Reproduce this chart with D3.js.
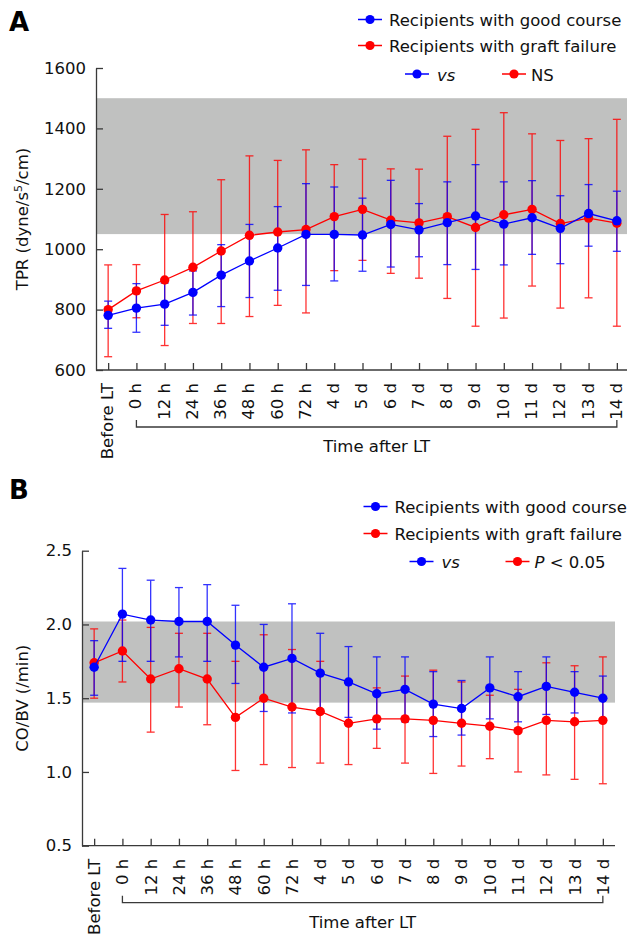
<!DOCTYPE html>
<html><head><meta charset="utf-8">
<script src="https://cdn.jsdelivr.net/npm/d3@7"></script>
<style>body{margin:0;background:#fff}svg{display:block}text{font-family:"DejaVu Sans",sans-serif}</style>
</head><body><svg id="c" width="627" height="936"></svg>
<script>
const categories = ["Before LT","0 h","12 h","24 h","36 h","48 h","60 h","72 h","4 d","5 d","6 d","7 d","8 d","9 d","10 d","11 d","12 d","13 d","14 d"];

// Panel A: TPR
const tprGoodMean = [781, 805, 818, 857, 914, 961, 1004, 1049, 1049, 1047, 1082, 1064, 1088, 1110, 1083, 1104, 1069, 1118, 1094];
const tprGoodLow  = [738, 725, 748, 782, 810, 840, 864, 880, 895, 927, 941, 975, 949, 933, 948, 983, 952, 1010, 993];
const tprGoodHigh = [828, 886, 888, 928, 1015, 1082, 1141, 1217, 1206, 1169, 1228, 1151, 1223, 1280, 1223, 1227, 1177, 1214, 1192];
const tprFailMean = [800, 862, 898, 940, 994, 1046, 1057, 1065, 1108, 1132, 1096, 1087, 1108, 1072, 1114, 1132, 1085, 1103, 1086];
const tprFailLow  = [644, 773, 681, 754, 754, 777, 814, 789, 929, 963, 920, 904, 837, 745, 772, 878, 805, 839, 745];
const tprFailHigh = [948, 949, 1115, 1124, 1230, 1309, 1294, 1329, 1280, 1298, 1266, 1265, 1374, 1397, 1452, 1382, 1360, 1366, 1430];
const tprTicks = [600, 800, 1000, 1200, 1400, 1600];
const tprNormal = [1050, 1500];

// Panel B: CO/BV
const coGoodMean = [1.71, 2.07, 2.03, 2.02, 2.02, 1.86, 1.71, 1.77, 1.67, 1.61, 1.53, 1.56, 1.46, 1.43, 1.57, 1.51, 1.58, 1.54, 1.50];
const coGoodLow  = [1.52, 1.75, 1.75, 1.78, 1.75, 1.60, 1.41, 1.40, 1.40, 1.37, 1.29, 1.34, 1.24, 1.25, 1.36, 1.34, 1.39, 1.40, 1.35];
const coGoodHigh = [1.89, 2.38, 2.30, 2.25, 2.27, 2.13, 2.00, 2.14, 1.94, 1.85, 1.78, 1.78, 1.68, 1.62, 1.78, 1.68, 1.78, 1.68, 1.65];
const coFailMean = [1.74, 1.82, 1.63, 1.70, 1.63, 1.37, 1.50, 1.44, 1.41, 1.33, 1.36, 1.36, 1.35, 1.33, 1.31, 1.28, 1.35, 1.34, 1.35];
const coFailLow  = [1.50, 1.61, 1.27, 1.44, 1.32, 1.01, 1.05, 1.03, 1.06, 1.05, 1.16, 1.06, 0.99, 1.04, 1.09, 1.00, 0.98, 0.95, 0.92];
const coFailHigh = [1.97, 2.03, 1.98, 1.94, 1.94, 1.75, 1.93, 1.83, 1.75, 1.62, 1.57, 1.65, 1.69, 1.61, 1.52, 1.56, 1.74, 1.72, 1.78];
const coTicks = [0.5, 1.0, 1.5, 2.0, 2.5];
const coNormal = [1.47, 2.02];

const seriesNames = ["Recipients with good course", "Recipients with graft failure"];

const BLUE = "#0000ff", RED = "#ff0000", GRAY = "#c0c1c0", AXIS = "#3a3a3a", TXT = "#111";
const FS = 16.5;
const svg = d3.select("#c");

function legendItem(g, x, y, color) {
  g.append("line").attr("x1", x - 12).attr("x2", x + 12).attr("y1", y).attr("y2", y)
    .attr("stroke", color).attr("stroke-width", 1.5);
  g.append("circle").attr("cx", x).attr("cy", y).attr("r", 4.6).attr("fill", color);
}

function panel(cfg) {
  const g = svg.append("g");
  const x = d3.scalePoint().domain(categories).range([cfg.left, cfg.right]).padding(0.43);
  const y = d3.scaleLinear().domain(cfg.domain).range([cfg.bottom, cfg.top]);

  // normal range band
  g.append("rect").attr("x", cfg.left + 1).attr("width", cfg.bandRight - cfg.left - 1)
    .attr("y", y(cfg.band[1])).attr("height", y(cfg.band[0]) - y(cfg.band[1]))
    .attr("fill", GRAY);

  // axes
  const yg = g.append("g").attr("transform", `translate(${cfg.left},0)`)
    .call(d3.axisLeft(y).tickValues(cfg.ticks).tickFormat(cfg.fmt).tickSizeInner(-7).tickSizeOuter(0).tickPadding(10));
  const xg = g.append("g").attr("transform", `translate(0,${cfg.bottom})`)
    .call(d3.axisBottom(x).tickSizeInner(-7).tickSizeOuter(0).tickFormat(""));
  xg.select(".domain").attr("d", `M${cfg.left},0H${cfg.bandRight}`);
  [yg, xg].forEach(a => {
    a.selectAll("path,line").attr("stroke", AXIS).attr("stroke-width", 1.3);
    a.selectAll("text").attr("font-family", "DejaVu Sans").attr("font-size", FS).attr("fill", TXT);
  });

  // rotated category labels
  g.selectAll("text.cat").data(categories).join("text").attr("class", "cat")
    .attr("transform", d => `translate(${x(d) + cfg.labOff},${cfg.bottom + 13}) rotate(-90)`)
    .attr("text-anchor", "end").attr("dy", "0.36em")
    .attr("font-size", FS).attr("fill", TXT).text(d => d);

  // bracket "Time after LT"
  const bx0 = x(categories[1]), bx1 = x(categories[categories.length - 1]), by = cfg.bottom + 57;
  g.append("path").attr("d", `M${bx0},${by - 7}V${by}H${bx1}V${by - 7}`)
    .attr("fill", "none").attr("stroke", AXIS).attr("stroke-width", 1.3);
  g.append("text").attr("x", (bx0 + bx1) / 2).attr("y", by + 25).attr("text-anchor", "middle")
    .attr("font-size", FS).attr("fill", TXT).text("Time after LT");

  // y title
  const yt = g.append("text")
    .attr("transform", `translate(28,${(cfg.top + cfg.bottom) / 2}) rotate(-90)`)
    .attr("text-anchor", "middle").attr("font-size", FS).attr("fill", TXT);
  cfg.yTitle(yt);

  // panel letter
  g.append("text").attr("x", 9).attr("y", cfg.letterY).attr("font-family", "Liberation Sans")
    .attr("font-weight", "bold").attr("font-size", 26).attr("fill", "#000").text(cfg.letter);

  // data
  const series = [
    {mean: cfg.fail[0], low: cfg.fail[1], high: cfg.fail[2], color: RED},
    {mean: cfg.good[0], low: cfg.good[1], high: cfg.good[2], color: BLUE}
  ];
  series.forEach(s => {
    const eg = g.append("g").attr("stroke", s.color).attr("stroke-width", 1.3).attr("opacity", 0.8);
    categories.forEach((c, i) => {
      const cx = x(c);
      eg.append("line").attr("x1", cx).attr("x2", cx).attr("y1", y(s.low[i])).attr("y2", y(s.high[i]));
      eg.append("line").attr("x1", cx - 4).attr("x2", cx + 4).attr("y1", y(s.low[i])).attr("y2", y(s.low[i]));
      eg.append("line").attr("x1", cx - 4).attr("x2", cx + 4).attr("y1", y(s.high[i])).attr("y2", y(s.high[i]));
    });
  });
  const line = d3.line().x((d, i) => x(categories[i])).y(d => y(d));
  series.forEach(s => {
    g.append("path").datum(s.mean).attr("d", line).attr("fill", "none")
      .attr("stroke", s.color).attr("stroke-width", 1.3);
    g.selectAll(null).data(s.mean).join("circle")
      .attr("cx", (d, i) => x(categories[i])).attr("cy", d => y(d)).attr("r", 4.7).attr("fill", s.color);
  });

  // legend
  const lg = g.append("g").attr("font-size", FS).attr("fill", TXT);
  const L = cfg.legend;
  legendItem(lg, L.x, L.y[0], BLUE);
  lg.append("text").attr("x", L.x + 19).attr("y", L.y[0] + 6.5).text(seriesNames[0]);
  legendItem(lg, L.x, L.y[1], RED);
  lg.append("text").attr("x", L.x + 19).attr("y", L.y[1] + 6.5).text(seriesNames[1]);
  legendItem(lg, L.vsX, L.y[2], BLUE);
  lg.append("text").attr("x", L.vsX + 20).attr("y", L.y[2] + 6.5).attr("font-style", "italic").text("vs");
  legendItem(lg, L.pX, L.y[2], RED);
  const pt = lg.append("text").attr("x", L.pX + 17).attr("y", L.y[2] + 6.5);
  cfg.pText(pt);
}

panel({
  left: 96, right: 629, bandRight: 627, top: 68, bottom: 370, domain: [600, 1600], ticks: tprTicks, fmt: d3.format("d"),
  band: tprNormal, good: [tprGoodMean, tprGoodLow, tprGoodHigh], fail: [tprFailMean, tprFailLow, tprFailHigh],
  labOff: -1, letter: "A", letterY: 31,
  yTitle: t => {
    t.append("tspan").text("TPR (dyne/s");
    t.append("tspan").attr("baseline-shift", "super").attr("font-size", 11).text("5");
    t.append("tspan").text("/cm)");
  },
  legend: {x: 370, vsX: 417, pX: 514, y: [19.5, 45.5, 74]},
  pText: t => t.text("NS")
});

panel({
  left: 82, right: 615, bandRight: 615, top: 550.7, bottom: 845.7, domain: [0.5, 2.5], ticks: coTicks, fmt: d3.format(".1f"),
  band: coNormal, good: [coGoodMean, coGoodLow, coGoodHigh], fail: [coFailMean, coFailLow, coFailHigh],
  labOff: 0, letter: "B", letterY: 499,
  yTitle: t => t.text("CO/BV (/min)"),
  legend: {x: 375.5, vsX: 421.5, pX: 517.5, y: [506.5, 533.5, 561.5]},
  pText: t => {
    t.append("tspan").attr("font-style", "italic").text("P");
    t.append("tspan").text(" < 0.05");
  }
});
</script></body></html>
